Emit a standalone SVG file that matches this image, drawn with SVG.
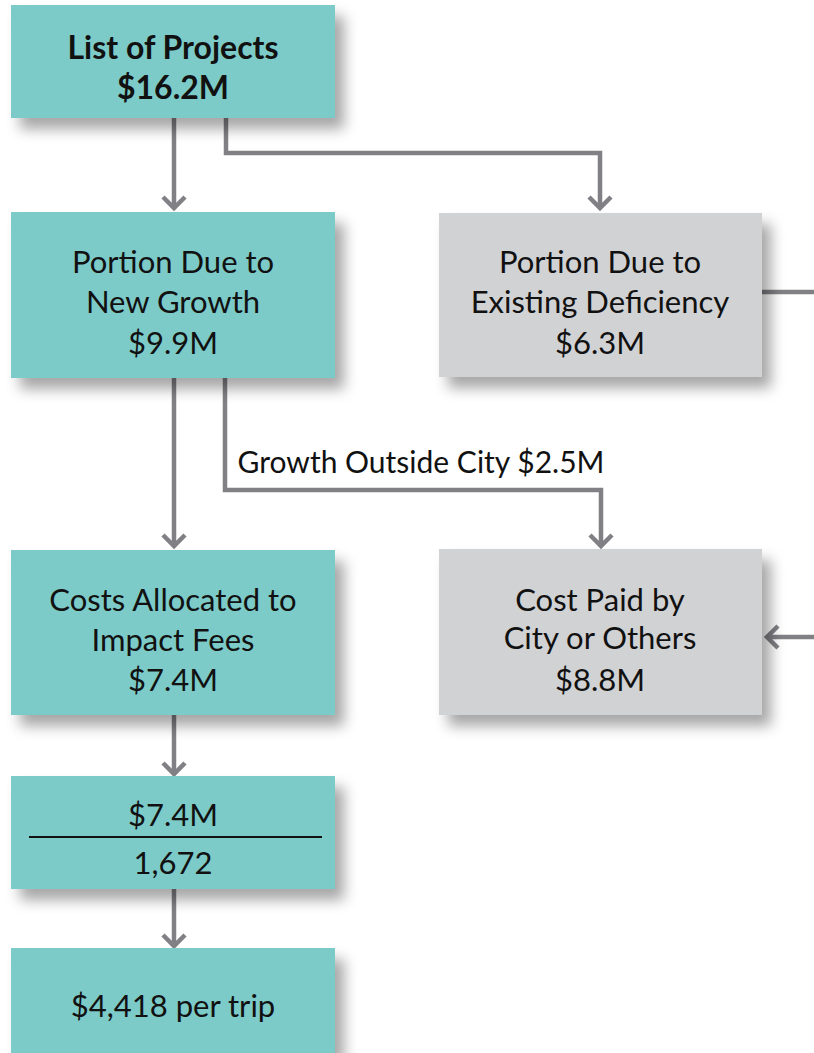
<svg xmlns="http://www.w3.org/2000/svg" width="814" height="1053" viewBox="0 0 814 1053">
<defs>
<filter id="sh" x="-10%" y="-10%" width="130%" height="140%">
<feDropShadow dx="9" dy="11" stdDeviation="7" flood-color="#000" flood-opacity="0.35"/>
</filter>
<marker id="ar" markerWidth="30" markerHeight="30" viewBox="-15 -15 30 30" refX="0" refY="0" orient="auto" markerUnits="userSpaceOnUse">
<polyline points="-11,-11 0,0 -11,11" fill="none" stroke="#808085" stroke-width="4.5"/>
</marker>
<style>
.t{fill:#7ccbc8;filter:url(#sh)}
.g{fill:#d1d2d4;filter:url(#sh)}
text{font-family:Lato,"Liberation Sans",sans-serif;font-size:31px;fill:#111;text-anchor:middle}
.b{font-weight:bold;font-size:32px}
.l{font-size:30px}
.c{fill:none;stroke:#808085;stroke-width:4.5}
</style>
</defs>
<g id="connectors">
<path class="c" d="M174,118 V208" marker-end="url(#ar)"/>
<path class="c" d="M226,118 V153 H600 V208" marker-end="url(#ar)"/>
<path class="c" d="M174,378 V546" marker-end="url(#ar)"/>
<path class="c" d="M225,378 V490 H601 V546" marker-end="url(#ar)"/>
<path class="c" d="M762,292 H814"/>
<path class="c" d="M814,637 H767" marker-end="url(#ar)"/>
<path class="c" d="M174,715 V774" marker-end="url(#ar)"/>
<path class="c" d="M174,889 V946" marker-end="url(#ar)"/>
<text class="l" x="421" y="473">Growth Outside City $2.5M</text>
</g>
<g id="n1"><rect class="t" x="11" y="5" width="324" height="113"/><text class="b" x="173" y="59">List of Projects</text><text class="b" x="173" y="99">$16.2M</text></g>
<g id="n2"><rect class="t" x="11" y="212" width="324" height="166"/><text x="173" y="273">Portion Due to</text><text x="173" y="313">New Growth</text><text x="173" y="354">$9.9M</text></g>
<g id="n3"><rect class="g" x="439" y="213" width="323" height="164"/><text x="600" y="273">Portion Due to</text><text x="600" y="313">Existing Deficiency</text><text x="600" y="354">$6.3M</text></g>
<g id="n4"><rect class="t" x="11" y="550" width="324" height="165"/><text x="173" y="611">Costs Allocated to</text><text x="173" y="651">Impact Fees</text><text x="173" y="691">$7.4M</text></g>
<g id="n5"><rect class="g" x="439" y="549" width="323" height="166"/><text x="600" y="611">Cost Paid by</text><text x="600" y="649">City or Others</text><text x="600" y="691">$8.8M</text></g>
<g id="n6"><rect class="t" x="11" y="776" width="324" height="113"/><text x="173" y="826">$7.4M</text><line x1="29" y1="837" x2="322" y2="837" stroke="#111" stroke-width="2"/><text x="173" y="874">1,672</text></g>
<g id="n7"><rect class="t" x="11" y="948" width="324" height="105"/><text x="173" y="1017">$4,418 per trip</text></g>
</svg>
